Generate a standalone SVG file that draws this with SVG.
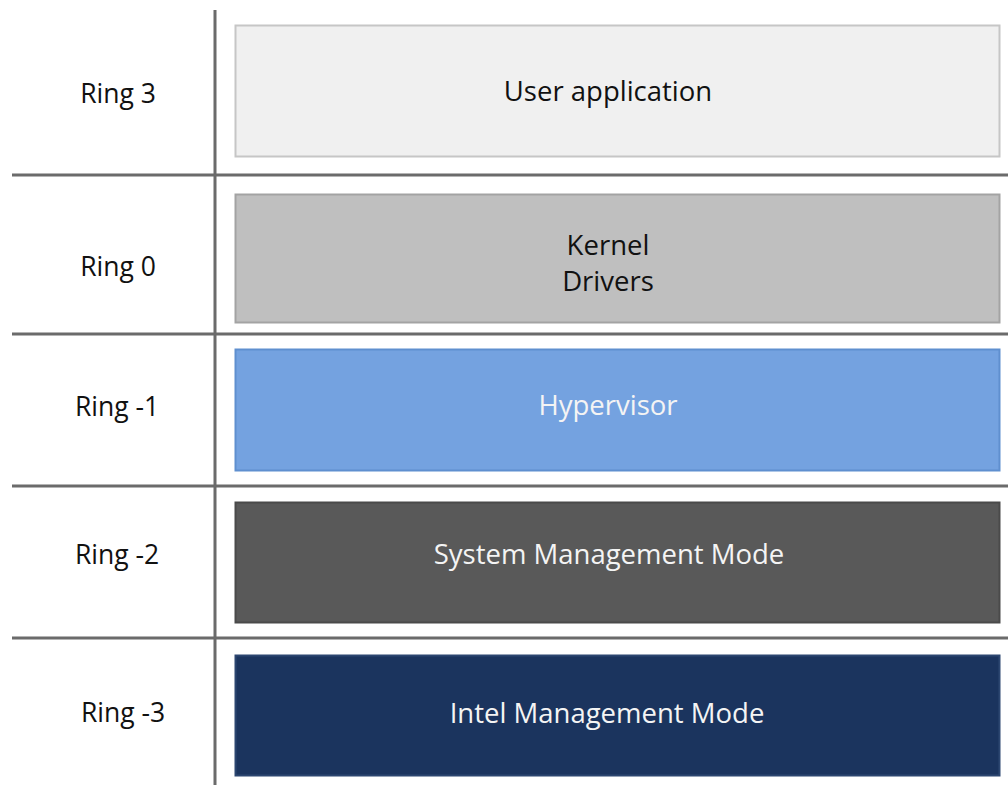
<svg xmlns="http://www.w3.org/2000/svg" width="1008" height="785" viewBox="0 0 1008 785">
  <style>
    .grid { stroke: #6b6b6b; stroke-width: 3; fill: none; }
    .ring { font-family: "Open Sans", "Noto Sans", sans-serif; font-size: 26.5px; fill: #111; text-anchor: middle; }
    .lbl { font-family: "Open Sans", "Noto Sans", sans-serif; font-size: 27.5px; text-anchor: middle; }
    .dark { fill: #111; }
    .light { fill: #f4f4f4; }
  </style>
  <rect width="1008" height="785" fill="#ffffff"/>

  <!-- table rules -->
  <g id="connectors">
    <line class="grid" x1="215" y1="10" x2="215" y2="785"/>
    <line class="grid" x1="12" y1="175" x2="1008" y2="175"/>
    <line class="grid" x1="12" y1="334" x2="1008" y2="334"/>
    <line class="grid" x1="12" y1="486" x2="1008" y2="486"/>
    <line class="grid" x1="12" y1="638" x2="1008" y2="638"/>
  </g>

  <!-- privilege level labels -->
  <g id="ring-labels">
    <text class="ring" x="118" y="103">Ring 3</text>
    <text class="ring" x="118" y="276">Ring 0</text>
    <text class="ring" x="117" y="416">Ring -1</text>
    <text class="ring" x="117" y="564">Ring -2</text>
    <text class="ring" x="123" y="722">Ring -3</text>
  </g>

  <g id="user-application">
    <rect x="235.5" y="25.5" width="764" height="131" fill="#f0f0f0" stroke="#c6c6c6" stroke-width="2"/>
    <text class="lbl dark" x="608" y="101">User application</text>
  </g>

  <g id="kernel-drivers">
    <rect x="235.5" y="194.5" width="764" height="128" fill="#bfbfbf" stroke="#a3a3a3" stroke-width="2"/>
    <text class="lbl dark" x="608" y="255">Kernel</text>
    <text class="lbl dark" x="608" y="291">Drivers</text>
  </g>

  <g id="hypervisor">
    <rect x="235.5" y="349.5" width="764" height="121" fill="#74a2e0" stroke="#5f8fcf" stroke-width="2"/>
    <text class="lbl light" x="608" y="415">Hypervisor</text>
  </g>

  <g id="system-management-mode">
    <rect x="235.5" y="502.5" width="764" height="120" fill="#595959" stroke="#4a4a4a" stroke-width="2"/>
    <text class="lbl light" x="609" y="564">System Management Mode</text>
  </g>

  <g id="intel-management-mode">
    <rect x="235.5" y="655.5" width="764" height="120" fill="#1b345e" stroke="#2c4670" stroke-width="2"/>
    <text class="lbl light" x="607" y="723">Intel Management Mode</text>
  </g>
</svg>
